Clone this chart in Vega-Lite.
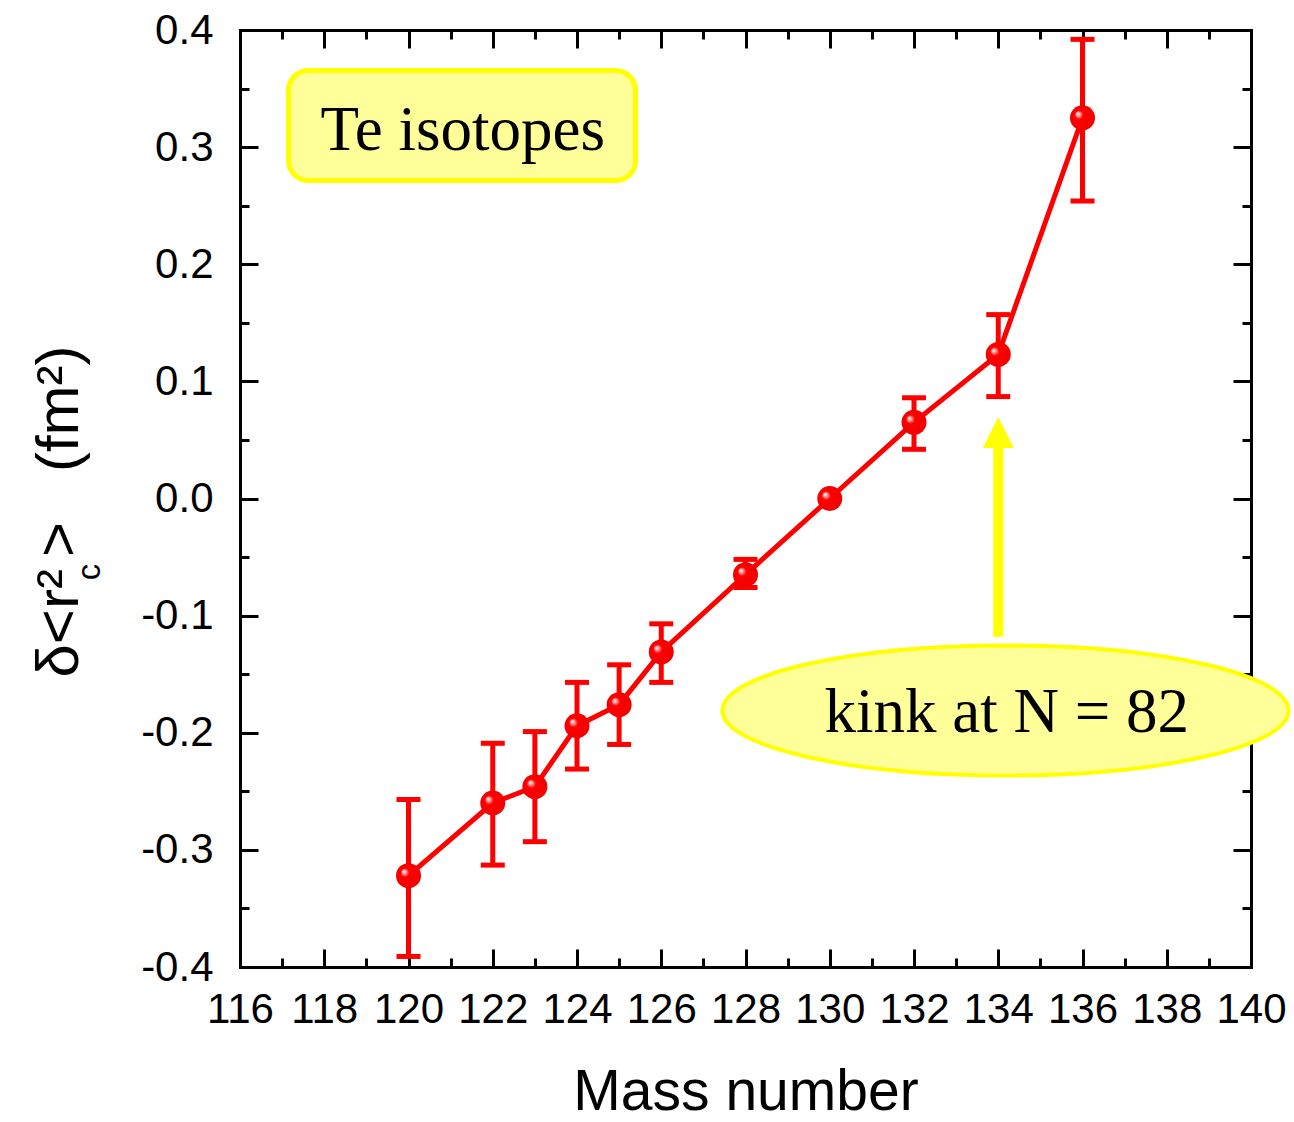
{
  "$schema": "https://vega.github.io/schema/vega-lite/v6.json",
  "width": 1011,
  "height": 937,
  "autosize": {"type": "none"},
  "padding": {"left": 240, "top": 30, "right": 43, "bottom": 155},
  "background": "white",
  "config": {
    "view": {"stroke": null},
    "axis": {
      "grid": false,
      "zindex": 1,
      "domainColor": "black",
      "tickColor": "black",
      "labelColor": "black",
      "titleColor": "black",
      "labelFont": "Liberation Sans",
      "titleFont": "Liberation Sans",
      "titleFontWeight": "normal",
      "domainWidth": 3,
      "tickWidth": 3,
      "domainCap": "square"
    }
  },
  "datasets": {
    "te": [
      {"mass": 120, "r": -0.322, "lo": -0.391, "hi": -0.257},
      {"mass": 122, "r": -0.260, "lo": -0.313, "hi": -0.209},
      {"mass": 123, "r": -0.246, "lo": -0.293, "hi": -0.199},
      {"mass": 124, "r": -0.194, "lo": -0.231, "hi": -0.157},
      {"mass": 125, "r": -0.176, "lo": -0.210, "hi": -0.142},
      {"mass": 126, "r": -0.131, "lo": -0.157, "hi": -0.107},
      {"mass": 128, "r": -0.065, "lo": -0.076, "hi": -0.052},
      {"mass": 130, "r": 0.0, "lo": null, "hi": null},
      {"mass": 132, "r": 0.065, "lo": 0.042, "hi": 0.086},
      {"mass": 134, "r": 0.123, "lo": 0.087, "hi": 0.157},
      {"mass": 136, "r": 0.325, "lo": 0.254, "hi": 0.392}
    ],
    "box": [
      {"x1": 117.151, "x2": 125.389, "y1": 0.3654, "y2": 0.2715, "tx": 121.288, "ty": 0.2977, "label": "Te isotopes"}
    ],
    "ellipse": [
      {"x": 134.172, "y": -0.181, "tx": 134.203, "ty": -0.1996, "label": "kink at N = 82"}
    ],
    "arrow": [
      {"x": 134, "y1": -0.118, "y2": 0.046, "hy": 0.0563}
    ],
    "sub": [
      {"x": 112.43, "y": -0.0628, "label": "c"}
    ]
  },
  "resolve": {"axis": {"x": "independent", "y": "independent"}},
  "layer": [
    {
      "data": {"name": "box"},
      "mark": {"type": "rect", "cornerRadius": 20, "fill": "#ffff99", "stroke": "#ffff00", "strokeWidth": 5},
      "encoding": {
        "x": {"field": "x1", "type": "quantitative", "scale": {"domain": [116, 140], "nice": false, "zero": false}, "axis": null},
        "x2": {"field": "x2"},
        "y": {"field": "y1", "type": "quantitative", "scale": {"domain": [-0.4, 0.4], "nice": false, "zero": false}, "axis": null},
        "y2": {"field": "y2"}
      }
    },
    {
      "data": {"name": "box"},
      "mark": {"type": "text", "font": "Liberation Serif", "fontSize": 63, "align": "center", "baseline": "alphabetic", "color": "black"},
      "encoding": {
        "x": {"field": "tx", "type": "quantitative", "scale": {"domain": [116, 140], "nice": false, "zero": false}, "axis": null},
        "y": {"field": "ty", "type": "quantitative", "scale": {"domain": [-0.4, 0.4], "nice": false, "zero": false}, "axis": null},
        "text": {"field": "label"}
      }
    },
    {
      "data": {"name": "arrow"},
      "mark": {"type": "rule", "color": "#ffff00", "strokeWidth": 10},
      "encoding": {
        "x": {"field": "x", "type": "quantitative", "scale": {"domain": [116, 140], "nice": false, "zero": false}, "axis": null},
        "y": {"field": "y1", "type": "quantitative", "scale": {"domain": [-0.4, 0.4], "nice": false, "zero": false}, "axis": null},
        "y2": {"field": "y2"}
      }
    },
    {
      "data": {"name": "arrow"},
      "mark": {"type": "point", "shape": "M 0 -1 L 1 1 L -1 1 Z", "size": 961, "filled": true, "fill": "#ffff00", "opacity": 1, "strokeWidth": 0},
      "encoding": {
        "x": {"field": "x", "type": "quantitative", "scale": {"domain": [116, 140], "nice": false, "zero": false}, "axis": null},
        "y": {"field": "hy", "type": "quantitative", "scale": {"domain": [-0.4, 0.4], "nice": false, "zero": false}, "axis": null}
      }
    },
    {
      "data": {"name": "ellipse"},
      "mark": {"type": "point", "shape": "M -1 0 C -1 -0.127 -0.5523 -0.23 0 -0.23 C 0.5523 -0.23 1 -0.127 1 0 C 1 0.127 0.5523 0.23 0 0.23 C -0.5523 0.23 -1 0.127 -1 0 Z", "size": 320356, "filled": true, "fill": "#ffff99", "stroke": "#ffff00", "strokeWidth": 4, "opacity": 1},
      "encoding": {
        "x": {"field": "x", "type": "quantitative", "scale": {"domain": [116, 140], "nice": false, "zero": false}, "axis": null},
        "y": {"field": "y", "type": "quantitative", "scale": {"domain": [-0.4, 0.4], "nice": false, "zero": false}, "axis": null}
      }
    },
    {
      "data": {"name": "ellipse"},
      "mark": {"type": "text", "font": "Liberation Serif", "fontSize": 63, "align": "center", "baseline": "alphabetic", "color": "black"},
      "encoding": {
        "x": {"field": "tx", "type": "quantitative", "scale": {"domain": [116, 140], "nice": false, "zero": false}, "axis": null},
        "y": {"field": "ty", "type": "quantitative", "scale": {"domain": [-0.4, 0.4], "nice": false, "zero": false}, "axis": null},
        "text": {"field": "label"}
      }
    },
    {
      "data": {"name": "sub"},
      "mark": {"type": "text", "font": "Liberation Sans", "fontSize": 33, "align": "center", "baseline": "middle", "angle": 270, "color": "black"},
      "encoding": {
        "x": {"field": "x", "type": "quantitative", "scale": {"domain": [116, 140], "nice": false, "zero": false}, "axis": null},
        "y": {"field": "y", "type": "quantitative", "scale": {"domain": [-0.4, 0.4], "nice": false, "zero": false}, "axis": null},
        "text": {"field": "label"}
      }
    },
    {
      "data": {"name": "te"},
      "mark": {"type": "line", "color": "#ff0000", "strokeWidth": 5},
      "encoding": {
        "x": {"field": "mass", "type": "quantitative", "scale": {"domain": [116, 140], "nice": false, "zero": false},
          "axis": {"orient": "bottom", "values": [116, 118, 120, 122, 124, 126, 128, 130, 132, 134, 136, 138, 140], "ticks": false, "domain": true, "labelFontSize": 42, "labelPadding": 22, "labelFlush": false, "labelOverlap": false, "format": "d", "title": "Mass number", "titleFontSize": 57, "titlePadding": 34}},
        "y": {"field": "r", "type": "quantitative", "scale": {"domain": [-0.4, 0.4], "nice": false, "zero": false},
          "axis": {"orient": "left", "values": [-0.4, -0.3, -0.2, -0.1, 0, 0.1, 0.2, 0.3, 0.4], "ticks": false, "domain": true, "labelFontSize": 42, "labelPadding": 27, "labelFlush": false, "labelOverlap": false, "labelExpr": "replace(format(datum.value, '.1f'), '\u2212', '-')", "title": "\u03b4<r\u00b2\u2009>\u00a0\u00a0\u00a0(fm\u00b2)", "titleFontSize": 60, "titlePadding": 50, "titleY": 481}}
      }
    },
    {
      "data": {"name": "te"},
      "mark": {"type": "rule", "color": "#ff0000", "strokeWidth": 5},
      "encoding": {
        "x": {"field": "mass", "type": "quantitative", "scale": {"domain": [116, 140], "nice": false, "zero": false},
          "axis": {"orient": "bottom", "values": [116, 118, 120, 122, 124, 126, 128, 130, 132, 134, 136, 138, 140], "labels": false, "domain": false, "ticks": true, "tickSize": -18, "title": null}},
        "y": {"field": "lo", "type": "quantitative", "scale": {"domain": [-0.4, 0.4], "nice": false, "zero": false},
          "axis": {"orient": "left", "values": [-0.4, -0.3, -0.2, -0.1, 0, 0.1, 0.2, 0.3, 0.4], "labels": false, "domain": false, "ticks": true, "tickSize": -18, "title": null}},
        "y2": {"field": "hi"}
      }
    },
    {
      "data": {"name": "te"},
      "mark": {"type": "tick", "orient": "horizontal", "color": "#ff0000", "size": 24, "thickness": 5, "opacity": 1},
      "encoding": {
        "x": {"field": "mass", "type": "quantitative", "scale": {"domain": [116, 140], "nice": false, "zero": false},
          "axis": {"orient": "bottom", "values": [117, 119, 121, 123, 125, 127, 129, 131, 133, 135, 137, 139], "labels": false, "domain": false, "ticks": true, "tickSize": -9, "title": null}},
        "y": {"field": "lo", "type": "quantitative", "scale": {"domain": [-0.4, 0.4], "nice": false, "zero": false},
          "axis": {"orient": "left", "values": [-0.35, -0.25, -0.15, -0.05, 0.05, 0.15, 0.25, 0.35], "labels": false, "domain": false, "ticks": true, "tickSize": -9, "title": null}}
      }
    },
    {
      "data": {"name": "te"},
      "mark": {"type": "tick", "orient": "horizontal", "color": "#ff0000", "size": 24, "thickness": 5, "opacity": 1},
      "encoding": {
        "x": {"field": "mass", "type": "quantitative", "scale": {"domain": [116, 140], "nice": false, "zero": false},
          "axis": {"orient": "top", "values": [116, 118, 120, 122, 124, 126, 128, 130, 132, 134, 136, 138, 140], "labels": false, "domain": true, "ticks": true, "tickSize": -18, "title": null}},
        "y": {"field": "hi", "type": "quantitative", "scale": {"domain": [-0.4, 0.4], "nice": false, "zero": false},
          "axis": {"orient": "right", "values": [-0.4, -0.3, -0.2, -0.1, 0, 0.1, 0.2, 0.3, 0.4], "labels": false, "domain": true, "ticks": true, "tickSize": -18, "title": null}}
      }
    },
    {
      "data": {"name": "te"},
      "mark": {"type": "point", "shape": "circle", "size": 625, "filled": true, "opacity": 1, "strokeWidth": 0,
        "fill": {"gradient": "radial", "x1": 0.3, "y1": 0.33, "r1": 0, "x2": 0.5, "y2": 0.5, "r2": 0.55,
          "stops": [{"offset": 0, "color": "#ffffff"}, {"offset": 0.12, "color": "#ffb0b0"}, {"offset": 0.32, "color": "#ff0000"}, {"offset": 1, "color": "#f00000"}]}},
      "encoding": {
        "x": {"field": "mass", "type": "quantitative", "scale": {"domain": [116, 140], "nice": false, "zero": false},
          "axis": {"orient": "top", "values": [117, 119, 121, 123, 125, 127, 129, 131, 133, 135, 137, 139], "labels": false, "domain": false, "ticks": true, "tickSize": -9, "title": null}},
        "y": {"field": "r", "type": "quantitative", "scale": {"domain": [-0.4, 0.4], "nice": false, "zero": false},
          "axis": {"orient": "right", "values": [-0.35, -0.25, -0.15, -0.05, 0.05, 0.15, 0.25, 0.35], "labels": false, "domain": false, "ticks": true, "tickSize": -9, "title": null}}
      }
    }
  ]
}
